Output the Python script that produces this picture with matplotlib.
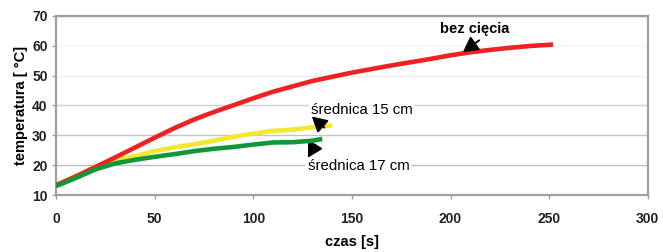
import matplotlib
matplotlib.use("Agg")
import matplotlib.pyplot as plt
import numpy as np

plt.rcParams['font.family'] = ['Liberation Sans', 'DejaVu Sans']

# readings from the chart (czas [s] -> temperatura)
t_red = [0, 10, 20, 30, 40, 50, 60, 70, 80, 90, 100, 110, 120, 130, 140, 150,
         160, 170, 180, 190, 200, 210, 220, 230, 240, 252]
temp_red = [13.3, 16.2, 19.4, 22.6, 25.9, 29.2, 32.4, 35.3, 37.8, 40.1, 42.4, 44.6,
            46.4, 48.2, 49.6, 51.0, 52.2, 53.4, 54.5, 55.6, 56.8, 57.8, 58.6, 59.3,
            59.9, 60.4]

t_yellow = [0, 10, 20, 30, 40, 50, 60, 70, 80, 90, 100, 110, 120, 130, 140]
temp_yellow = [13.3, 16.3, 19.5, 21.6, 23.0, 24.7, 26.0, 27.0, 28.2, 29.5, 30.6,
               31.5, 31.9, 32.7, 33.3]

t_green = [0, 10, 20, 30, 40, 50, 60, 70, 80, 90, 100, 110, 120, 130, 135]
temp_green = [13.0, 15.7, 18.6, 20.6, 21.8, 22.8, 23.7, 24.7, 25.5, 26.1, 26.9,
              27.6, 27.7, 28.2, 28.8]

labels = ["bez cięcia", "średnica 15 cm", "średnica 17 cm"]
x_ticks = [0, 50, 100, 150, 200, 250, 300]
y_ticks = [10, 20, 30, 40, 50, 60, 70]

fig = plt.figure(figsize=(6.63, 2.52), dpi=100)
ax = fig.add_axes([0.0845, 0.226, 0.8925, 0.711])

# gridlines (upper ones are very faint in the original)
grid_colors = ['#b0b0b0', '#bdbdbd', '#c4c4c4', '#cfcfcf', '#efefef', '#f2f2f2', '#b0b0b0']
for yv, gc in zip(y_ticks, grid_colors):
    ax.axhline(yv, color=gc, lw=1.0, zorder=0)

ax.plot(t_red, temp_red, color='#ee2222', lw=3.3, solid_capstyle='butt', zorder=3)
ax.plot(t_yellow, temp_yellow, color='#f2e830', lw=3.3, solid_capstyle='butt', zorder=2)
ax.plot(t_green, temp_green, color='#12963a', lw=3.3, solid_capstyle='butt', zorder=4)

ax.set_xlim(0, 300)
ax.set_ylim(10, 70)
ax.set_xticks(x_ticks)
ax.set_yticks(y_ticks)
ax.set_xticklabels([str(v) for v in x_ticks], fontweight='bold', color='#222222', fontsize=10)
ax.set_yticklabels([str(v) for v in y_ticks], fontweight='bold', color='#222222', fontsize=10)
ax.tick_params(axis='both', length=3, width=1, color='#a0a0a0', direction='out')
ax.tick_params(axis='x', pad=9)
ax.tick_params(axis='y', pad=3)

for side in ['left', 'bottom', 'top', 'right']:
    ax.spines[side].set_color('#a0a0a0')
    ax.spines[side].set_linewidth(1.6)

ax.set_xlabel('czas [s]', fontweight='bold', fontsize=10.5, labelpad=7)
ax.set_ylabel('temperatura [ °C]', fontweight='bold', fontsize=10.5, labelpad=3)

arrow = dict(arrowstyle='-|>,head_length=0.9,head_width=0.5', color='black', lw=1.4,
             shrinkA=0, shrinkB=0)

ax.text(212.5, 65.6, labels[0], fontweight='bold', fontsize=10.5, ha='center', va='center')
ax.annotate('', xy=(206.3, 57.9), xytext=(214.5, 61.8), arrowprops=arrow)

ax.text(129.5, 38.6, labels[1], fontsize=10.8, ha='left', va='center',
        bbox=dict(facecolor='white', edgecolor='none', pad=1.5))
ax.annotate('', xy=(129.7, 36.3), xytext=(136, 32.6), arrowprops=arrow)

ax.text(127.5, 19.7, labels[2], fontsize=10.8, ha='left', va='center',
        bbox=dict(facecolor='white', edgecolor='none', pad=1.5))
ax.annotate('', xy=(127.7, 22.5), xytext=(131.5, 26.9), arrowprops=arrow)

fig.savefig('out.png', dpi=100)
